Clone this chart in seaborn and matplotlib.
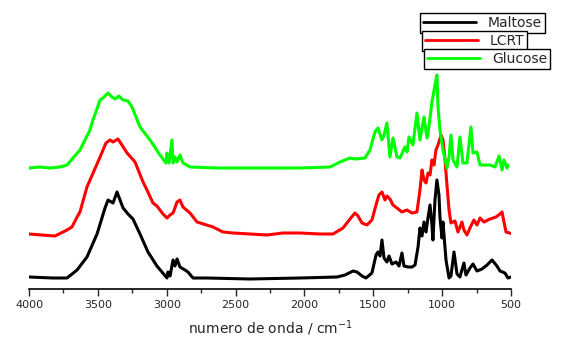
import pandas as pd
import matplotlib
matplotlib.use("Agg")
import matplotlib.pyplot as plt
import seaborn as sns

# FTIR spectra (wavenumber in cm-1, stacked intensity in a.u.)
maltose_wn = [4000, 3826, 3724, 3651, 3579, 3506, 3448, 3426, 3390, 3361, 3339, 3317, 3281, 3245,
              3194, 3136, 3071, 2998, 2991, 2976, 2954, 2940, 2925, 2904, 2867, 2846, 2809, 2708,
              2395, 2032, 1764, 1705, 1647, 1618, 1582, 1553, 1510, 1480, 1466, 1451, 1437, 1422,
              1401, 1386, 1364, 1335, 1313, 1292, 1277, 1248, 1219, 1197, 1175, 1161, 1146, 1132,
              1117, 1103, 1088, 1074, 1067, 1052, 1038, 1023, 1016, 1001, 994, 972, 950, 936, 914,
              892, 871, 842, 827, 798, 776, 747, 711, 674, 638, 602, 580, 544, 522, 500]
maltose_y = [12, 11, 11, 19, 32, 55, 81, 89, 86, 97, 89, 81, 75, 70,
             55, 37, 23, 11, 17, 13, 29, 23, 30, 22, 19, 17, 11, 11,
             10, 11, 12, 14, 18, 17, 13, 11, 16, 34, 37, 33, 49, 31,
             27, 33, 25, 27, 23, 36, 23, 22, 22, 24, 42, 61, 53, 67,
             57, 71, 84, 64, 49, 89, 109, 94, 72, 51, 67, 29, 11, 13, 37,
             15, 12, 26, 14, 21, 25, 18, 20, 24, 29, 23, 18, 16, 11, 12]

lcrt_wn = [4000, 3906, 3811, 3753, 3724, 3688, 3651, 3630, 3579, 3484, 3441, 3412, 3390, 3354,
           3325, 3288, 3230, 3172, 3143, 3100, 3071, 3027, 2998, 2976, 2954, 2925, 2904, 2882,
           2831, 2780, 2664, 2591, 2519, 2395, 2272, 2156, 2032, 1887, 1793, 1720, 1669, 1633,
           1611, 1582, 1546, 1510, 1480, 1459, 1437, 1415, 1401, 1379, 1357, 1328, 1292, 1255,
           1219, 1183, 1161, 1146, 1132, 1117, 1103, 1088, 1074, 1059, 1045, 1030, 1008, 994,
           979, 965, 950, 936, 907, 885, 856, 842, 820, 798, 769, 747, 725, 696, 653, 609, 580,
           565, 551, 536, 486]
lcrt_y = [55, 54, 53, 57, 59, 62, 72, 77, 102, 132, 146, 149, 147, 150,
          144, 136, 127, 107, 99, 86, 83, 75, 71, 74, 76, 87, 89, 82,
          76, 67, 62, 57, 56, 55, 54, 56, 56, 55, 55, 61, 70, 76,
          73, 66, 64, 69, 84, 94, 97, 89, 93, 90, 84, 81, 77, 79,
          76, 77, 99, 119, 109, 106, 116, 114, 129, 124, 139, 144, 154, 149,
          129, 104, 79, 66, 68, 57, 67, 59, 54, 61, 69, 64, 71, 67, 70, 72, 75,
          77, 67, 57, 55]

glucose_wn = [4000, 3920, 3848, 3775, 3724, 3681, 3630, 3557, 3543, 3484, 3463, 3426, 3397, 3376,
              3347, 3317, 3281, 3252, 3194, 3121, 3049, 3005, 2998, 2983, 2962, 2954, 2940, 2925,
              2904, 2882, 2831, 2635, 2395, 2032, 1814, 1742, 1669, 1633, 1560, 1524, 1488, 1466,
              1437, 1422, 1401, 1379, 1357, 1328, 1306, 1270, 1255, 1241, 1212, 1183, 1161, 1132,
              1110, 1096, 1074, 1067, 1052, 1038, 1030, 1016, 994, 965, 950, 936, 921, 892, 871,
              849, 820, 791, 776, 747, 725, 653, 616, 587, 565, 551, 529, 522]
glucose_y = [121, 122, 121, 122, 124, 131, 139, 159, 166, 189, 191, 196, 192, 190,
             193, 189, 188, 182, 162, 149, 134, 126, 136, 126, 149, 126, 132, 127,
             134, 126, 122, 121, 121, 121, 122, 127, 131, 130, 131, 139, 157, 161,
             149, 154, 166, 132, 151, 132, 131, 142, 137, 152, 144, 176, 149, 172,
             151, 162, 187, 192, 204, 214, 182, 159, 139, 121, 132, 154, 129, 122, 152,
             126, 126, 162, 136, 137, 124, 124, 122, 133, 119, 129, 121, 124]

names = ["Maltose", "LCRT", "Glucose"]
colors = ["black", "red", "#00ff00"]

df = pd.concat([
    pd.DataFrame({"wn": maltose_wn, "y": maltose_y, "sample": "Maltose"}),
    pd.DataFrame({"wn": lcrt_wn, "y": lcrt_y, "sample": "LCRT"}),
    pd.DataFrame({"wn": glucose_wn, "y": glucose_y, "sample": "Glucose"}),
])

sns.set_style("white")
plt.rcParams["font.family"] = ["DejaVu Sans"]

fig = plt.figure(figsize=(5.66, 3.39), dpi=100)
ax = fig.add_axes([29 / 566, 50 / 339, 482 / 566, 280 / 339])

sns.lineplot(data=df, x="wn", y="y", hue="sample", palette=dict(zip(names, colors)),
             estimator=None, sort=False, linewidth=2.2, legend=False, ax=ax)

ax.set_xlim(4000, 500)
ax.set_ylim(0, 280)
ax.set_xticks([4000, 3500, 3000, 2500, 2000, 1500, 1000, 500])
ax.set_xticks(range(3750, 500, -500), minor=True)
ax.tick_params(axis="x", which="major", direction="out", length=5, width=1, labelsize=8, pad=3)
ax.tick_params(axis="x", which="minor", direction="out", length=3, width=1)
ax.set_yticks([])
ax.set_ylabel("")
ax.set_xlabel("numero de onda / cm$^{-1}$", fontsize=10, labelpad=6)
for side in ["left", "right", "top"]:
    ax.spines[side].set_visible(False)
ax.spines["bottom"].set_linewidth(1.2)
ax.spines["bottom"].set_color("black")
ax.xaxis.set_ticks_position("bottom")

# Origin-style legend: one box per entry, stepped down to the right
box_pos = [(420, 13), (422, 31), (424, 49)]
for name, color, (px, py) in zip(names, colors, box_pos):
    handle = plt.Line2D([], [], color=color, linewidth=2)
    leg = fig.legend([handle], [name], loc="upper left",
                     bbox_to_anchor=(px / 566, 1 - py / 339), bbox_transform=fig.transFigure,
                     fontsize=10, handlelength=3.8, handletextpad=0.9, borderpad=0.2,
                     borderaxespad=0, fancybox=False, framealpha=1, edgecolor="black")
    leg.get_frame().set_linewidth(1)

fig.savefig("out.png", dpi=100)
